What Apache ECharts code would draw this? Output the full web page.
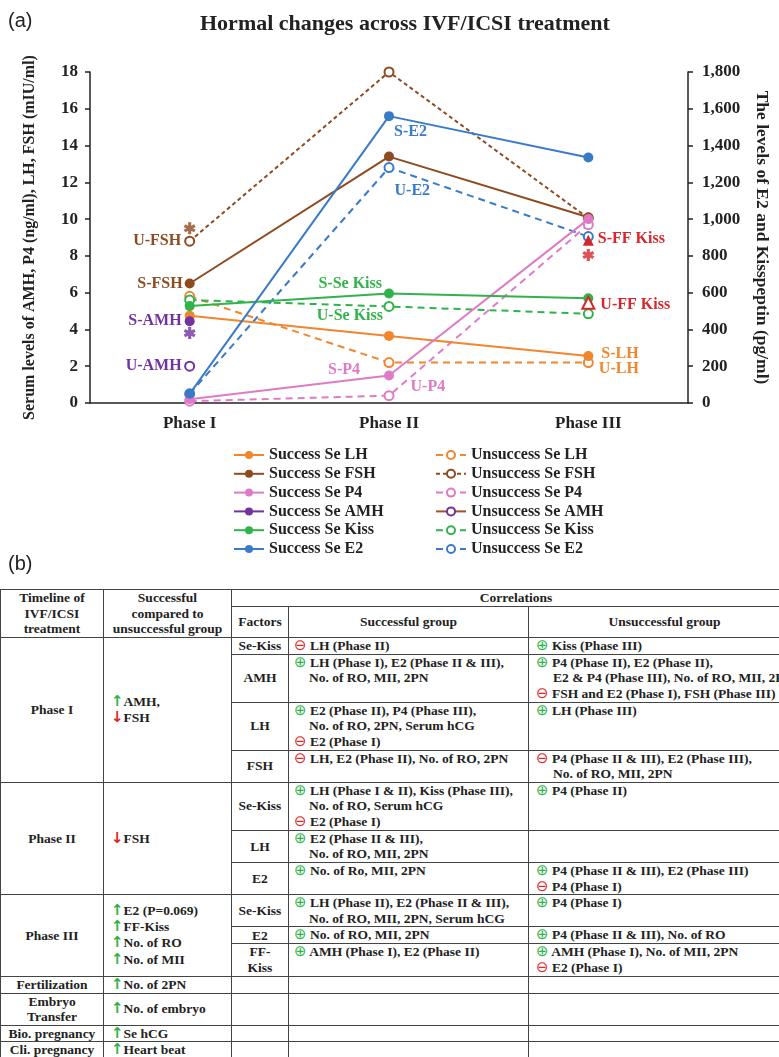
<!DOCTYPE html>
<html><head><meta charset="utf-8">
<script src="https://cdn.jsdelivr.net/npm/echarts@6/dist/echarts.min.js"></script>
<style>
body{margin:0;background:#fff;width:779px;height:1057px;overflow:hidden;position:relative;font-family:'Liberation Serif',serif;}
#chart{position:absolute;left:0;top:0;width:779px;height:580px;}
.lab{position:absolute;left:8px;font-family:'Liberation Sans',sans-serif;font-size:20px;color:#222;line-height:22px;}
#tw{position:absolute;left:0;top:589px;width:779px;height:468px;overflow:hidden;background:#fff;}
table{border-collapse:collapse;width:800px;table-layout:fixed;font-weight:bold;font-size:13.5px;line-height:15.6px;color:#222;}
td{border:1.5px solid #444;padding:0;vertical-align:middle;white-space:nowrap;overflow:hidden;}
td.c{text-align:center;}
td.s{text-align:left;padding-left:7px;}
td.k{vertical-align:top;text-align:left;}
td.k4 .e{padding-left:20px;text-indent:-15px;}
td.k5 .e{padding-left:24px;text-indent:-17px;}
.p,.m{font-family:'DejaVu Sans',sans-serif;font-weight:normal;font-size:15px;line-height:10px;}
.u,.d{font-family:'DejaVu Sans',sans-serif;font-weight:bold;font-size:15px;line-height:10px;}
.p{color:#2DB34A;}
.m{color:#E5262B;}
.u{color:#2DB34A;}
.d{color:#E5262B;}
</style>
</head><body>
<div id="chart"></div>
<div class="lab" style="top:9px">(a)</div>
<div id="tw">
<table>
<colgroup><col style="width:103px"><col style="width:128px"><col style="width:57px"><col style="width:240px"><col style="width:272px"></colgroup>
<tr style="height:16px"><td class="c" rowspan="2">Timeline of<br>IVF/ICSI<br>treatment</td><td class="c" rowspan="2">Successful<br>compared to<br>unsuccessful group</td><td class="c" colspan="3">Correlations</td></tr>
<tr style="height:31.5px"><td class="c">Factors</td><td class="c">Successful group</td><td class="c">Unsuccessful group</td></tr>

<tr style="height:16.7px"><td class="c" rowspan="4">Phase I</td><td class="s" rowspan="4"><span class="u">↑</span>AMH,<br><span class="d">↓</span>FSH</td><td class="c">Se-Kiss</td>
<td class="k k4"><div class="e"><span class="m">⊖</span> LH (Phase II)</div></td>
<td class="k k5"><div class="e"><span class="p">⊕</span> Kiss (Phase III)</div></td></tr>
<tr style="height:47px"><td class="c">AMH</td>
<td class="k k4"><div class="e"><span class="p">⊕</span> LH (Phase I), E2 (Phase II &amp; III),<br>No. of RO, MII, 2PN</div></td>
<td class="k k5"><div class="e"><span class="p">⊕</span> P4 (Phase II), E2 (Phase II),<br>E2 &amp; P4 (Phase III), No. of RO, MII, 2PN</div><div class="e"><span class="m">⊖</span> FSH and E2 (Phase I), FSH (Phase III)</div></td></tr>
<tr style="height:48px"><td class="c">LH</td>
<td class="k k4"><div class="e"><span class="p">⊕</span> E2 (Phase II), P4 (Phase III),<br>No. of RO, 2PN, Serum hCG</div><div class="e"><span class="m">⊖</span> E2 (Phase I)</div></td>
<td class="k k5"><div class="e"><span class="p">⊕</span> LH (Phase III)</div></td></tr>
<tr style="height:32px"><td class="c">FSH</td>
<td class="k k4"><div class="e"><span class="m">⊖</span> LH, E2 (Phase II), No. of RO, 2PN</div></td>
<td class="k k5"><div class="e"><span class="m">⊖</span> P4 (Phase II &amp; III), E2 (Phase III),<br>No. of RO, MII, 2PN</div></td></tr>

<tr style="height:48px"><td class="c" rowspan="3">Phase II</td><td class="s" rowspan="3"><span class="d">↓</span>FSH</td><td class="c">Se-Kiss</td>
<td class="k k4"><div class="e"><span class="p">⊕</span> LH (Phase I &amp; II), Kiss (Phase III),<br>No. of RO, Serum hCG</div><div class="e"><span class="m">⊖</span> E2 (Phase I)</div></td>
<td class="k k5"><div class="e"><span class="p">⊕</span> P4 (Phase II)</div></td></tr>
<tr style="height:32px"><td class="c">LH</td>
<td class="k k4"><div class="e"><span class="p">⊕</span> E2 (Phase II &amp; III),<br>No. of RO, MII, 2PN</div></td>
<td class="k k5"></td></tr>
<tr style="height:32px"><td class="c">E2</td>
<td class="k k4"><div class="e"><span class="p">⊕</span> No. of Ro, MII, 2PN</div></td>
<td class="k k5"><div class="e"><span class="p">⊕</span> P4 (Phase II &amp; III), E2 (Phase III)</div><div class="e"><span class="m">⊖</span> P4 (Phase I)</div></td></tr>

<tr style="height:32px"><td class="c" rowspan="3">Phase III</td><td class="s" rowspan="3" style="line-height:16.4px"><span class="u">↑</span>E2 (P=0.069)<br><span class="u">↑</span>FF-Kiss<br><span class="u">↑</span>No. of RO<br><span class="u">↑</span>No. of MII</td><td class="c">Se-Kiss</td>
<td class="k k4"><div class="e"><span class="p">⊕</span> LH (Phase II), E2 (Phase II &amp; III),<br>No. of RO, MII, 2PN, Serum hCG</div></td>
<td class="k k5"><div class="e"><span class="p">⊕</span> P4 (Phase I)</div></td></tr>
<tr style="height:17px"><td class="c">E2</td>
<td class="k k4"><div class="e"><span class="p">⊕</span> No. of RO, MII, 2PN</div></td>
<td class="k k5"><div class="e"><span class="p">⊕</span> P4 (Phase II &amp; III), No. of RO</div></td></tr>
<tr style="height:32px"><td class="c">FF-<br>Kiss</td>
<td class="k k4"><div class="e"><span class="p">⊕</span> AMH (Phase I), E2 (Phase II)</div></td>
<td class="k k5"><div class="e"><span class="p">⊕</span> AMH (Phase I), No. of MII, 2PN</div><div class="e"><span class="m">⊖</span> E2 (Phase I)</div></td></tr>

<tr style="height:17px"><td class="c">Fertilization</td><td class="s"><span class="u">↑</span>No. of 2PN</td><td></td><td></td><td></td></tr>
<tr style="height:32px"><td class="c">Embryo<br>Transfer</td><td class="s"><span class="u">↑</span>No. of embryo</td><td></td><td></td><td></td></tr>
<tr style="height:16.5px"><td class="c">Bio. pregnancy</td><td class="s"><span class="u">↑</span>Se hCG</td><td></td><td></td><td></td></tr>
<tr style="height:17px"><td class="c">Cli. pregnancy</td><td class="s"><span class="u">↑</span>Heart beat</td><td></td><td></td><td></td></tr>
</table>
</div>
<div class="lab" style="top:552px">(b)</div>
<script>
// ---- data ----
const phases = ['Phase I', 'Phase II', 'Phase III'];
const sLH   = [4.75, 3.65, 2.55];
const uLH   = [5.8, 2.2, 2.2];
const sFSH  = [6.5, 13.4, 10.1];
const uFSH  = [8.8, 18.0, 10.05];
const sP4   = [0.2, 1.5, 10.0];
const uP4   = [0.1, 0.4, 9.7];
const sAMH  = [4.45, null, null];
const uAMH  = [2.0, null, null];
const sKiss = [527, 595, 570];
const uKiss = [560, 525, 485];
const sE2   = [50, 1560, 1335];
const uE2   = [50, 1280, 905];
const sFFKiss = [null, null, 885];
const uFFKiss = [null, null, 545];
const starFSH = [9.5, null, null];
const starAMH = [3.8, null, null];
const starFFKiss = [null, null, 805];
const leftTicks = {min: 0, max: 18, interval: 2};
const rightTicks = {min: 0, max: 1800, interval: 200};

// ---- styles ----
const FONT = 'Liberation Serif';
const C = {lh:'#F0862E', fsh:'#8E4B20', p4:'#DF7BC6', amh:'#7232A0', kiss:'#30B34A', e2:'#3A7BC8', ff:'#D6262C'};
// asterisk: three crossing bars (consistent winding)
const STAR = 'path://M3.7,0L6.3,0L6.3,10L3.7,10Z' +
  'M0.0,3.9L1.3,1.65L10.0,6.1L8.7,8.35Z' +
  'M1.3,8.35L0.0,6.1L8.7,1.65L10.0,3.9Z';

function L(text, pos, dist, dy, color) {
  return {show: true, position: pos, distance: dist, offset: [0, dy], color: color,
    fontFamily: FONT, fontWeight: 'bold', fontSize: 16, formatter: text};
}
function build(vals, labels) {
  return vals.map((v, i) => (labels && labels[i]) ? {value: v, label: labels[i]} : v);
}
function line(name, vals, color, success, yIdx, labels, extra) {
  const s = {
    name: name, type: 'line', yAxisIndex: yIdx, data: build(vals, labels),
    symbol: success ? 'circle' : 'emptyCircle', symbolSize: success ? 10 : 9,
    itemStyle: {color: color, borderColor: color, borderWidth: success ? 0 : 2},
    lineStyle: {color: color, width: 2, type: success ? 'solid' : [7, 5]},
    label: {show: false}, emphasis: {disabled: true}, z: success ? 4 : 3
  };
  return Object.assign(s, extra || {});
}
function star(vals, color, yIdx) {
  return {type: 'scatter', yAxisIndex: yIdx, data: vals, symbol: STAR, symbolSize: 12,
    itemStyle: {color: color}, emphasis: {disabled: true}, z: 5};
}

const series = [
  line('Unsuccess Se LH', uLH, C.lh, false, 0, {2: L('U-LH', 'right', 5, 6, C.lh)}),
  line('Unsuccess Se FSH', uFSH, C.fsh, false, 0, {0: L('U-FSH', 'left', 3, 0, C.fsh)}, {lineStyle: {color: C.fsh, width: 2, type: [4, 3]}}),
  line('Unsuccess Se P4', uP4, C.p4, false, 0, {1: L('U-P4', 'right', 16, -9, C.p4)}),
  line('Unsuccess Se AMH', uAMH, C.amh, false, 0, {0: L('U-AMH', 'left', 2.5, 0, C.amh)}, {lineStyle: {color: '#A0502A', width: 2, type: 'solid'}}),
  line('Unsuccess Se Kiss', uKiss, C.kiss, false, 1, {1: L('U-Se Kiss', 'left', 0.5, 9, C.kiss)}),
  line('Unsuccess Se E2', uE2, C.e2, false, 1, {1: L('U-E2', 'right', 0, 23, C.e2)}),
  line('Success Se LH', sLH, C.lh, true, 0, {2: L('S-LH', 'right', 8, -2, C.lh)}),
  line('Success Se FSH', sFSH, C.fsh, true, 0, {0: L('S-FSH', 'left', 2, 0, C.fsh)}),
  line('Success Se P4', sP4, C.p4, true, 0, {1: L('S-P4', 'left', 24, -6, C.p4)}),
  line('Success Se AMH', sAMH, C.amh, true, 0, {0: L('S-AMH', 'left', 3, 0, C.amh)}),
  line('Success Se Kiss', sKiss, C.kiss, true, 1, {1: L('S-Se Kiss', 'left', 2, -10, C.kiss)}),
  line('Success Se E2', sE2, C.e2, true, 1, {1: L('S-E2', 'right', 0, 16, C.e2)}),
  line('Success FF Kiss', sFFKiss, C.ff, true, 1, {2: L('S-FF Kiss', 'right', 4, -1, C.ff)}, {symbol: 'triangle', symbolSize: 11, z: 6}),
  line('Unsuccess FF Kiss', uFFKiss, C.ff, false, 1, {2: L('U-FF Kiss', 'right', 5, 2, C.ff)}, {symbol: 'emptyTriangle', symbolSize: 12, z: 6}),
  star(starFSH, C.fsh, 0),
  star(starAMH, C.amh, 0),
  star(starFFKiss, C.ff, 1)
];

const legendText = {fontFamily: FONT, fontWeight: 'bold', fontSize: 16, color: '#222'};
const legendBase = {orient: 'vertical', top: 442, height: 130, itemWidth: 30, itemHeight: 10, itemGap: 2.8,
  textStyle: legendText, selectedMode: false};

const axisLineStyle = {show: true, lineStyle: {color: '#222', width: 1.5}};
const tickLabel = {fontFamily: FONT, fontWeight: 'bold', fontSize: 17, color: '#222'};

const option = {
  animation: false,
  backgroundColor: '#fff',
  title: {text: 'Hormal changes across IVF/ICSI treatment', left: 195, top: 8,
    textStyle: {fontFamily: FONT, fontWeight: 'bold', fontSize: 22, color: '#222'}},
  legend: [
    Object.assign({left: 228, data: ['Success Se LH','Success Se FSH','Success Se P4','Success Se AMH','Success Se Kiss','Success Se E2']}, legendBase),
    Object.assign({left: 430, data: ['Unsuccess Se LH','Unsuccess Se FSH','Unsuccess Se P4','Unsuccess Se AMH','Unsuccess Se Kiss','Unsuccess Se E2']}, legendBase)
  ],
  grid: {left: 90, right: 85, top: 72, bottom: 177},
  xAxis: {type: 'category', data: phases, boundaryGap: true,
    axisLine: axisLineStyle, axisTick: {show: false},
    axisLabel: Object.assign({margin: 12}, tickLabel), splitLine: {show: false}},
  yAxis: [
    {type: 'value', position: 'left', min: leftTicks.min, max: leftTicks.max, interval: leftTicks.interval,
      axisLine: axisLineStyle, axisTick: {show: true, length: 5, lineStyle: {color: '#222', width: 1.5}},
      axisLabel: Object.assign({margin: 12}, tickLabel), splitLine: {show: false},
      name: 'Serum levels of AMH, P4 (ng/ml), LH, FSH (mIU/ml)', nameLocation: 'middle', nameGap: 52,
      nameTextStyle: {fontFamily: FONT, fontWeight: 'bold', fontSize: 16, color: '#222'}},
    {type: 'value', position: 'right', min: rightTicks.min, max: rightTicks.max, interval: rightTicks.interval,
      axisLine: axisLineStyle, axisTick: {show: true, length: 5, lineStyle: {color: '#222', width: 1.5}},
      axisLabel: Object.assign({margin: 14, formatter: v => v.toLocaleString('en-US')}, tickLabel), splitLine: {show: false},
      name: 'The levels of E2 and Kisspeptin (pg/ml)', nameLocation: 'middle', nameGap: 65, nameRotate: -90,
      nameTextStyle: {fontFamily: FONT, fontWeight: 'bold', fontSize: 17.5, color: '#222'}}
  ],
  series: series
};
const chart = echarts.init(document.getElementById('chart'), null, {renderer: 'canvas'});
chart.setOption(option);
</script>
</body></html>
